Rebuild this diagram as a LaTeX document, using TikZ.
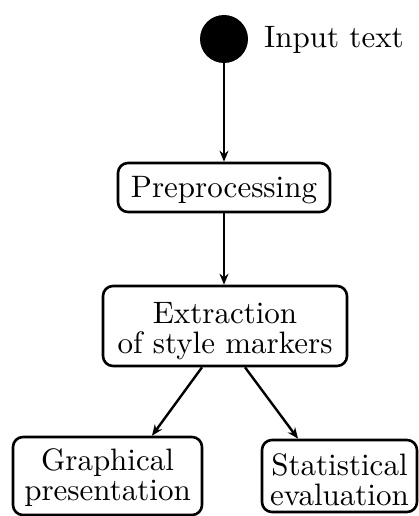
\documentclass[tikz,border=0pt]{standalone}
\usepackage{fontspec}
\setmainfont{lmroman10-regular.otf}
\usetikzlibrary{arrows.meta}
\begin{document}
\begin{tikzpicture}[x=1pt,y=-1pt,
  box/.style={draw, line width=2.6pt, rounded corners=10pt, inner sep=0pt},
  boxtext/.style={align=center, inner sep=0pt, font=\fontsize{31}{30}\selectfont},
  conn/.style={line width=2.4pt, -{Stealth[length=11pt,width=9pt]}}]
\useasboundingbox (0,0) rectangle (418,516);
\node[circle, fill=black, minimum size=48pt, inner sep=0pt] (start) at (224,39) {};
\node[anchor=base west, inner sep=0pt, font=\fontsize{31}{30}\selectfont] (lbl) at (264,48) {Input text};
\node[box, minimum width=212pt, minimum height=49pt] (pre) at (224,187.5) {};
\node[boxtext] (preT) at ([yshift=-2.5pt]pre.center) {Preprocessing};
\node[box, minimum width=244pt, minimum height=80pt] (ext) at (225,326) {};
\node[boxtext] (extT) at ([yshift=-5pt]ext.center) {Extraction\\of style markers};
\node[box, minimum width=189pt, minimum height=78pt] (gra) at (107.5,476) {};
\node[boxtext] (graT) at ([yshift=-2pt]gra.center) {Graphical\\presentation};
\node[box, minimum width=155pt, minimum height=72pt] (sta) at (339.5,476) {};
\node[boxtext] (staT) at ([yshift=-3.5pt]sta.center) {Statistical\\evaluation};
\draw[conn] (start) -- (pre);
\draw[conn] (pre) -- (pre|-ext.north);
\draw[conn] ([xshift=-23pt]ext.south) -- ([xshift=44.5pt]gra.north);
\draw[conn] ([xshift=20pt]ext.south) -- ([xshift=-41.5pt]sta.north);
\end{tikzpicture}
\end{document}
